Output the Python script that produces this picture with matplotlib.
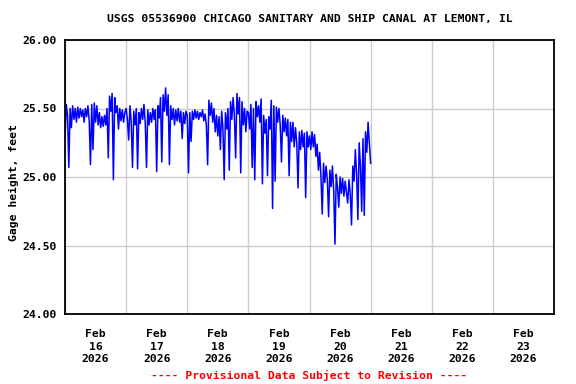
import numpy as np
import pandas as pd
import matplotlib
matplotlib.use("Agg")
import matplotlib.pyplot as plt
import matplotlib.dates as mdates

title = "USGS 05536900 CHICAGO SANITARY AND SHIP CANAL AT LEMONT, IL"
ylabel = "Gage height, feet"
footer = "---- Provisional Data Subject to Revision ----"

# gage height readings every 30 minutes, starting Feb 16 2026 00:00
feb16 = [25.28, 25.53, 25.45, 25.07, 25.50, 25.36, 25.52, 25.42, 25.50, 25.40, 25.51, 25.43,
         25.50, 25.44, 25.49, 25.40, 25.50, 25.44, 25.52, 25.41, 25.09, 25.53, 25.20, 25.54,
         25.40, 25.52, 25.38, 25.47, 25.36, 25.44, 25.37, 25.45, 25.38, 25.50, 25.14, 25.59,
         25.48, 25.61, 24.98, 25.58, 25.47, 25.52, 25.35, 25.50, 25.41, 25.49, 25.40, 25.47]
feb17 = [25.50, 25.42, 25.27, 25.52, 25.40, 25.07, 25.48, 25.38, 25.50, 25.06, 25.47, 25.39,
         25.50, 25.42, 25.53, 25.40, 25.07, 25.49, 25.38, 25.47, 25.40, 25.50, 25.42, 25.49,
         25.04, 25.52, 25.43, 25.58, 25.11, 25.60, 25.48, 25.65, 25.45, 25.60, 25.09, 25.52,
         25.42, 25.50, 25.38, 25.49, 25.41, 25.50, 25.40, 25.48, 25.28, 25.47, 25.39, 25.48]
feb18 = [25.45, 25.03, 25.47, 25.26, 25.48, 25.42, 25.49, 25.43, 25.48, 25.42, 25.47, 25.44,
         25.49, 25.41, 25.46, 25.38, 25.09, 25.56, 25.45, 25.54, 25.40, 25.50, 25.33, 25.45,
         25.30, 25.44, 25.20, 25.48, 25.36, 24.98, 25.47, 25.35, 25.50, 25.05, 25.55, 25.42,
         25.58, 25.45, 25.14, 25.61, 25.46, 25.58, 25.03, 25.55, 25.38, 25.50, 25.33, 25.48]
feb19 = [25.47, 25.35, 25.53, 25.07, 25.50, 24.98, 25.55, 25.44, 25.52, 25.40, 25.57, 24.95,
         25.45, 25.32, 25.42, 25.01, 25.44, 25.35, 25.56, 24.77, 25.52, 24.97, 25.51, 25.40,
         25.50, 25.38, 25.11, 25.45, 25.33, 25.43, 25.30, 25.42, 25.01, 25.40, 25.26, 25.40,
         25.22, 25.36, 25.25, 24.92, 25.33, 25.20, 25.34, 25.22, 25.32, 24.85, 25.33, 25.22]
feb20 = [25.30, 25.20, 25.33, 25.22, 25.31, 25.15, 25.24, 25.05, 25.18, 25.00, 24.73, 25.10,
         24.96, 25.08, 24.98, 24.71, 25.05, 24.93, 25.08, 24.90, 24.51, 25.02, 24.92, 24.78,
         25.00, 24.88, 24.99, 24.86, 24.97, 24.89, 24.81, 24.98, 24.88, 24.65, 25.08, 24.97,
         25.20, 25.02, 24.69, 25.25, 25.08, 24.75, 25.28, 24.72, 25.33, 25.18, 25.40, 25.25,
         25.10]

gage = feb16 + feb17 + feb18 + feb19 + feb20
times = pd.date_range("2026-02-16 00:00", periods=len(gage), freq="30min")

yticks = [24.0, 24.5, 25.0, 25.5, 26.0]
days = pd.date_range("2026-02-16", "2026-02-24", freq="D")
day_labels = ["Feb\n%d\n2026" % d.day for d in days[:-1]]

plt.rcParams['font.family'] = ['DejaVu Sans Mono']
plt.rcParams['font.weight'] = 'bold'
fs = 8.2

fig = plt.figure(figsize=(5.76, 3.84), dpi=100)
ax = fig.add_axes([65 / 576, 1 - 314 / 384, 489 / 576, 274 / 384])

ax.plot(times, gage, color="#0000ff", linewidth=1.1)

ax.set_xlim(days[0], days[-1])
ax.set_ylim(24.0, 26.0)
ax.set_yticks(yticks)
ax.set_yticklabels(["%.2f" % v for v in yticks], fontsize=fs, fontweight='bold')

ax.set_xticks(days)
ax.set_xticklabels([])
ax.set_xticks(days[:-1] + pd.Timedelta(hours=12), minor=True)
ax.set_xticklabels(day_labels, minor=True, fontsize=fs, fontweight='bold', linespacing=1.3)
ax.tick_params(axis='x', which='both', length=0, pad=11)
ax.tick_params(axis='y', length=0, pad=6)

ax.grid(True, which='major', color='#cccccc', linewidth=1)
ax.set_axisbelow(True)
for s in ax.spines.values():
    s.set_linewidth(1.3)
    s.set_color('black')

ax.set_ylabel(ylabel, fontsize=fs, fontweight='bold')
ax.yaxis.set_label_coords(-0.094, 0.48)
fig.text(309.5 / 576, 1 - 19 / 384, title, ha='center', va='center', fontsize=fs, fontweight='bold')
fig.text(309.5 / 576, 1 - 375 / 384, footer, ha='center', va='center', fontsize=fs,
         fontweight='bold', color='red')

fig.savefig("out.png", dpi=100)
